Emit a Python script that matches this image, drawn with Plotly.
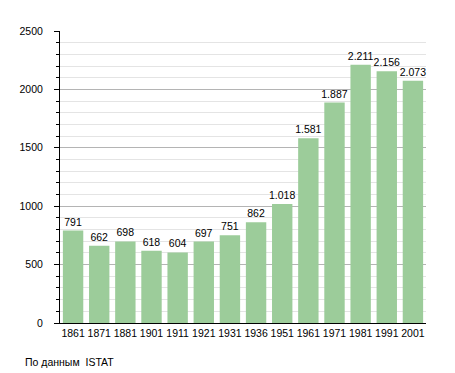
import plotly.graph_objects as go

years = ["1861", "1871", "1881", "1901", "1911", "1921", "1931", "1936",
         "1951", "1961", "1971", "1981", "1991", "2001"]
population = [791, 662, 698, 618, 604, 697, 751, 862, 1018, 1581, 1887, 2211, 2156, 2073]
y_ticks = [0, 500, 1000, 1500, 2000, 2500]
source_note = "По данным  ISTAT"

# page body has an 8px margin, so the figure is offset by 8px
OFF = 8
W, H = 455 - OFF, 373 - OFF
ml, mt = 49 - OFF, 31 - OFF
plot_right, plot_bottom = 426 - OFF, 323 - OFF
mr, mb = W - plot_right, H - plot_bottom
pw, ph = plot_right - ml, plot_bottom - mt

FONT = "Liberation Sans, Arial, Helvetica, sans-serif"

fig = go.Figure(go.Bar(
    x=years, y=population,
    marker=dict(color="#9ccc9a", line=dict(width=0)),
    texttemplate="%{y:,}", textposition="outside",
    textfont=dict(family=FONT, size=10.5, color="black"),
    cliponaxis=False,
))

note_y = 362 - OFF
fig.update_layout(
    width=W, height=H,
    margin=dict(l=ml, r=mr, t=mt, b=mb),
    plot_bgcolor="white", paper_bgcolor="white",
    separators=",.",
    bargap=0.22,
    showlegend=False,
    uniformtext=dict(minsize=10, mode="show"),
    font=dict(family=FONT, size=10.5, color="black"),
    xaxis=dict(type="category", showline=True, linecolor="black", linewidth=1,
               ticks="", showgrid=False, tickfont=dict(size=10.5)),
    yaxis=dict(range=[0, 2500], tickvals=y_ticks, showline=True, linecolor="black",
               linewidth=1, ticks="outside", ticklen=5, tickcolor="black",
               ticklabelstandoff=9,
               showgrid=True, gridcolor="#b4b4b4", gridwidth=1, zeroline=False,
               tickfont=dict(size=10.5),
               minor=dict(dtick=100, showgrid=True, gridcolor="#e4e4e4",
                          ticks="outside", ticklen=3, tickcolor="black")),
    annotations=[dict(text=source_note, xref="paper", yref="paper",
                      x=(11 - OFF - ml) / pw, y=-(note_y - plot_bottom) / ph,
                      xanchor="left", yanchor="middle", showarrow=False,
                      font=dict(size=10.5))],
)

fig.write_html("out.html")
